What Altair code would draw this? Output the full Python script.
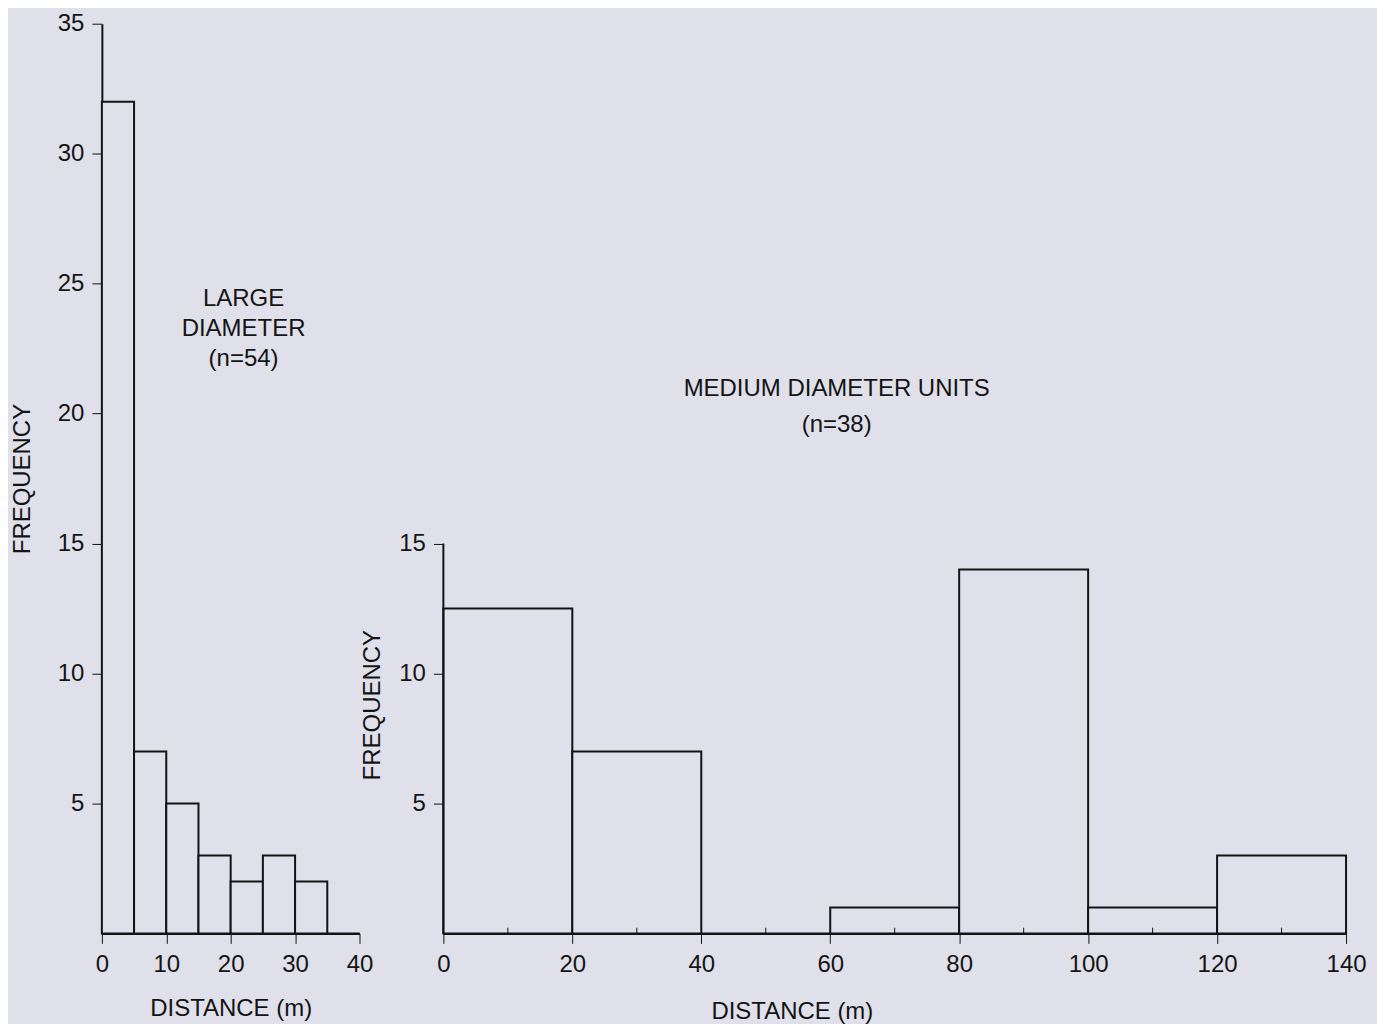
import altair as alt
import pandas as pd

# ---- data ----
large_start = [0, 5, 10, 15, 20, 25, 30, 35]
large_end = [5, 10, 15, 20, 25, 30, 35, 40]
large_freq = [32, 7, 5, 3, 2, 3, 2, 0]

medium_start = [0, 20, 40, 60, 80, 100, 120]
medium_end = [20, 40, 60, 80, 100, 120, 140]
medium_freq = [12.5, 7, 0, 1, 14, 1, 3]

large_x_ticks = [0, 5, 10, 15, 20, 25, 30, 35, 40]
large_y_ticks = [5, 10, 15, 20, 25, 30, 35]
medium_x_major = [0, 20, 40, 60, 80, 100, 120, 140]
medium_x_minor = [10, 30, 50, 70, 90, 110, 130]
medium_y_ticks = [5, 10, 15]

large_note_lines = ["LARGE", "DIAMETER", "(n=54)"]
large_note_x = [22, 22, 22]
large_note_y = [24.4, 23.25, 22.1]

medium_note_lines = ["MEDIUM DIAMETER UNITS", "(n=38)"]
medium_note_x = [61, 61]
medium_note_y = [20.95, 19.55]

FONT = "Liberation Sans"
BG = "#dfe0ea"
INK = "#141414"

y_scale = alt.Scale(domain=[0, 35], nice=False, zero=True)

# ---------------- left panel ----------------
left_df = pd.DataFrame({"start": large_start, "end": large_end, "freq": large_freq})
left_bars = alt.Chart(left_df).transform_calculate(base="0").mark_rect(
    fill=BG, stroke=INK, strokeWidth=2
).encode(
    x=alt.X("start:Q", scale=alt.Scale(domain=[0, 40], nice=False),
            axis=alt.Axis(values=large_x_ticks,
                          labelExpr="datum.value % 10 == 0 ? datum.label : ''",
                          title="DISTANCE  (m)", titleY=75, titleBaseline="middle")),
    x2="end:Q",
    y=alt.Y("freq:Q", scale=y_scale,
            axis=alt.Axis(values=large_y_ticks, title="FREQUENCY", titlePadding=23)),
    y2="base:Q",
)
left_note_df = pd.DataFrame({"x": large_note_x, "y": large_note_y, "t": large_note_lines})
left_note = alt.Chart(left_note_df).mark_text(
    font=FONT, fontSize=24, color=INK, align="center", baseline="middle"
).encode(x="x:Q", y="y:Q", text="t:N")

left = alt.layer(left_bars, left_note).properties(width=258, height=911)

# ---------------- right panel ----------------
right_df = pd.DataFrame({"start": medium_start, "end": medium_end, "freq": medium_freq})
x_scale_r = alt.Scale(domain=[0, 140], nice=False)
right_bars = alt.Chart(right_df).transform_calculate(base="0").mark_rect(
    fill=BG, stroke=INK, strokeWidth=2
).encode(
    x=alt.X("start:Q", scale=x_scale_r,
            axis=alt.Axis(values=medium_x_major, title="DISTANCE  (m)",
                          titleX=349, titleY=78, titleBaseline="middle")),
    x2="end:Q",
    y=alt.Y("freq:Q", scale=y_scale,
            axis=alt.Axis(values=medium_y_ticks, title="FREQUENCY", domain=False,
                          titleX=-71, titleY=682, titleBaseline="middle",
                          titleAlign="center", titleAngle=270)),
    y2="base:Q",
)
minor_df = pd.DataFrame({"x": medium_x_minor})
minor_ticks = alt.Chart(minor_df).transform_calculate(
    y0="0", y1="0.22"
).mark_rule(color=INK, strokeWidth=1).encode(
    x=alt.X("x:Q", scale=x_scale_r),
    y="y0:Q",
    y2="y1:Q",
)
yaxis_line = alt.Chart(pd.DataFrame({"x0": [0], "bottom": [0], "top": [15]})).mark_rule(
    color=INK, strokeWidth=2
).encode(x="x0:Q", y="bottom:Q", y2="top:Q")
right_note_df = pd.DataFrame({"x": medium_note_x, "y": medium_note_y, "t": medium_note_lines})
right_note = alt.Chart(right_note_df).mark_text(
    font=FONT, fontSize=24, color=INK, align="center", baseline="middle"
).encode(x="x:Q", y="y:Q", text="t:N")

right = alt.layer(right_bars, minor_ticks, yaxis_line, right_note).properties(width=904, height=911)

chart = alt.hconcat(left, right, spacing=84, bounds="flush").properties(
    background=BG,
    padding={"left": 2, "top": 3, "right": 10, "bottom": 0},
).configure_view(stroke=None).configure_axis(
    grid=False,
    domainColor=INK, domainWidth=2,
    tickColor=INK, tickWidth=1, tickSize=10,
    labelFont=FONT, labelFontSize=24, labelColor=INK, labelPadding=8,
    labelFlush=False, labelOverlap=False,
    titleFont=FONT, titleFontSize=24, titleFontWeight="normal", titleColor=INK,
).configure_axisX(labelPadding=9)

chart.save("out.html", embed_options={"renderer": "svg", "actions": False})
